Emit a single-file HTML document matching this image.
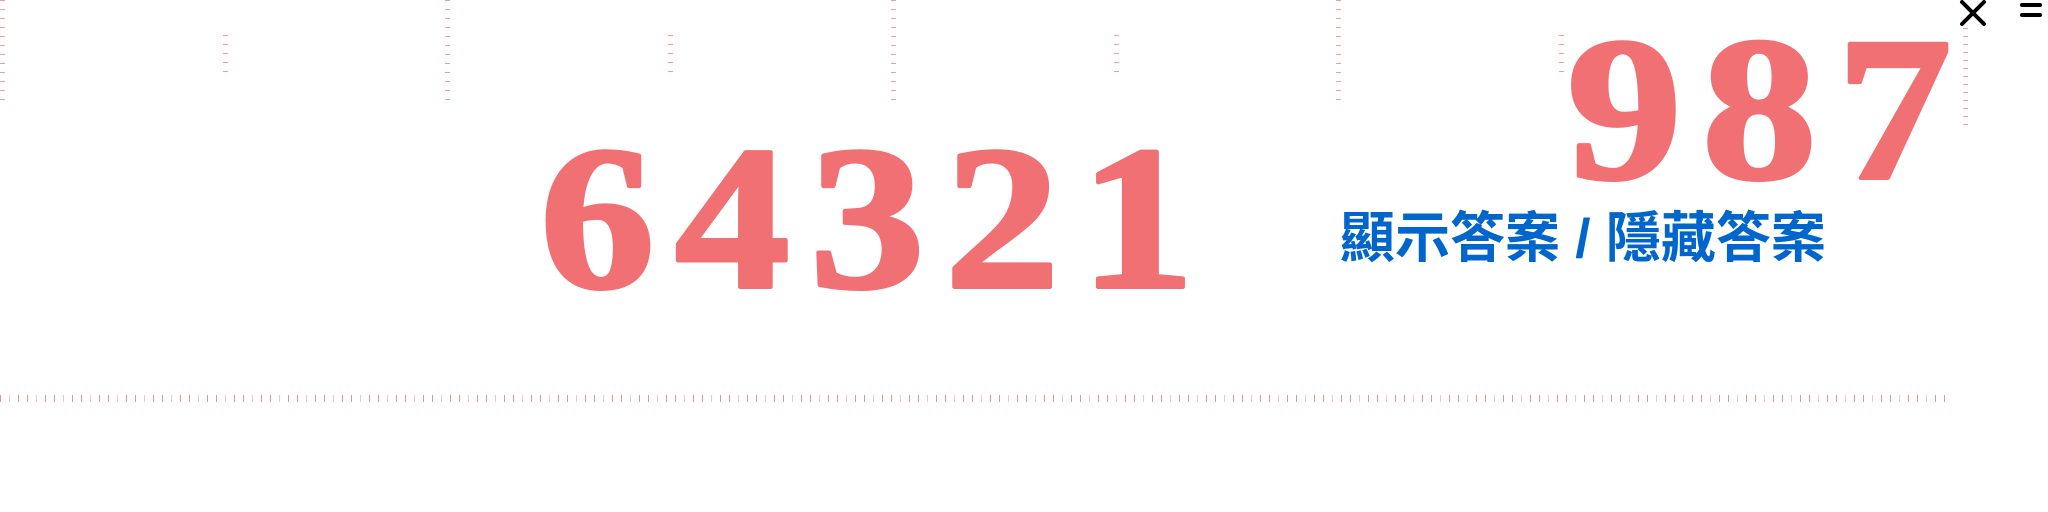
<!DOCTYPE html>
<html><head><meta charset="utf-8">
<style>
html,body{margin:0;padding:0;background:#fff;}
body{width:2048px;height:512px;overflow:hidden;position:relative;}
svg{position:absolute;left:0;top:0;}
.num{font-family:"Liberation Serif",serif;font-weight:bold;fill:#f07074;stroke:#f07074;stroke-width:4;stroke-linejoin:round;}
#toggle{position:absolute;left:1340px;top:211px;font-family:"Liberation Sans","Noto Sans CJK TC",sans-serif;font-weight:bold;font-size:55px;line-height:1;color:#0066cc;white-space:nowrap;cursor:pointer;}
</style></head>
<body>
<svg id="art" width="2048" height="512">
  <g id="cols"></g>
  <g id="ticks"></g>
  <text class="num" x="540" y="287" font-size="205" letter-spacing="18" transform="translate(540,0) scale(1.12,1) translate(-540,0)">64321</text>
  <text class="num" x="1567" y="178" font-size="205" letter-spacing="18" transform="translate(1567,0) scale(1.12,1) translate(-1567,0)">987</text>
  <g stroke="#000" stroke-width="4" stroke-linecap="round">
    <line x1="1962" y1="2" x2="1984" y2="24"/><line x1="1984" y1="2" x2="1962" y2="24"/>
  </g>
  <g stroke="#000" stroke-width="4" stroke-linecap="round">
    <line x1="2022" y1="5" x2="2040" y2="5"/><line x1="2022" y1="15" x2="2040" y2="15"/>
  </g>
</svg>
<div id="toggle">顯示答案 / 隱藏答案</div>
<script>
const colX = [0,223,445,668,891,1114,1336,1559];
const colLong = [1,0,1,0,1,0,1,0];
const NS = "http://www.w3.org/2000/svg";
const cols = document.getElementById('cols');
colX.forEach((x,i)=>{
  const y0 = colLong[i] ? 0 : 35, y1 = colLong[i] ? 106 : 71;
  for(let y=y0;y<=y1;y+=9){
    const r=document.createElementNS(NS,'rect');
    r.setAttribute('x',x);r.setAttribute('y',y);r.setAttribute('width',5);r.setAttribute('height',1);
    r.setAttribute('fill','#f49a9d');
    
    
    cols.appendChild(r);
  }
});
for(let y=28;y<=124;y+=8){
  const r=document.createElementNS(NS,'rect');
  r.setAttribute('x',1963);r.setAttribute('y',y);r.setAttribute('width',5);r.setAttribute('height',1);
  r.setAttribute('fill','#f49a9d');
  
  
  cols.appendChild(r);
}
const ticks=document.getElementById('ticks');
let k=0;
for(let x=0;x<=1945;x+=9){
  const r=document.createElementNS(NS,'rect');
  r.setAttribute('x',x);r.setAttribute('y',395);r.setAttribute('width',1);r.setAttribute('height',7);
  r.setAttribute('fill',(k%3===1)?'#f8c4c6':'#f28e92');
  
  
  ticks.appendChild(r);k++;
}
</script>
</body></html>
